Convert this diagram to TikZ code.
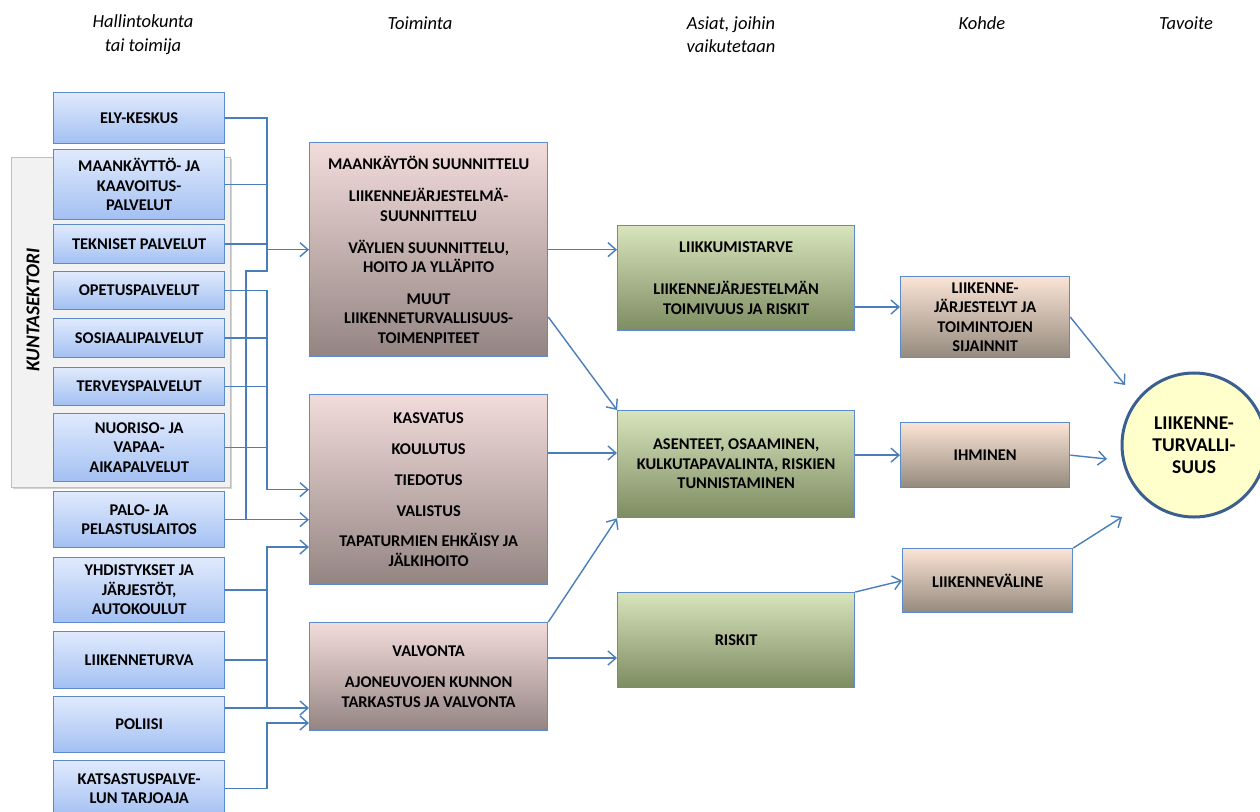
\documentclass[tikz,border=0pt]{standalone}
\usepackage{fontspec}
\setmainfont{Carlito}
\usetikzlibrary{arrows.meta,shadows}
\definecolor{lnblue}{HTML}{4A7EBB}
\definecolor{bbord}{HTML}{5B8BCB}
\definecolor{lbtop}{HTML}{E0EAFD}
\definecolor{lbbot}{HTML}{A3C0F2}
\definecolor{pktop}{HTML}{F2DCDB}
\definecolor{pkbot}{HTML}{938482}
\definecolor{gtop}{HTML}{D8E4BC}
\definecolor{gbot}{HTML}{7E8C62}
\definecolor{ttop}{HTML}{FBE4D5}
\definecolor{tbot}{HTML}{948A7E}
\definecolor{circfill}{HTML}{FFFFCC}
\definecolor{circbord}{HTML}{3B6090}
\definecolor{grayfill}{HTML}{F2F2F2}
\definecolor{grayline}{HTML}{BFBFBF}
\begin{document}
\begin{tikzpicture}[x=1pt,y=-1pt,
  conn/.style={draw=lnblue, line width=1.4pt},
  arr/.style={conn, -{Straight Barb[length=8pt,width=14pt]}},
  base/.style={anchor=north west, inner sep=0pt, align=center, line width=1.3pt,
    font=\bfseries\fontsize{16.4}{19.5}\selectfont, text=black},
  lbox/.style={base, draw=bbord, top color=lbtop, bottom color=lbbot, minimum width=171pt},
  pbox/.style={base, draw=bbord, top color=pktop, bottom color=pkbot, minimum width=238pt},
  gbox/.style={base, draw=bbord, top color=gtop, bottom color=gbot, minimum width=237pt},
  tbox/.style={base, draw=bbord, top color=ttop, bottom color=tbot, minimum width=169pt},
  head/.style={align=center, font=\itshape\fontsize{18.5}{23.5}\selectfont, inner sep=0pt}
]
\useasboundingbox (0,0) rectangle (1260,811);
\clip (0,0) rectangle (1260,811);

% headers
\node[head] (h1) at (143,34.5) {Hallintokunta\\tai toimija};
\node[head] (h2) at (420,23) {Toiminta};
\node[head] (h3) at (731,34.5) {Asiat, joihin\\vaikutetaan};
\node[head] (h4) at (982,23) {Kohde};
\node[head] (h5) at (1186,23) {Tavoite};

% kuntasektori group
\node[anchor=north west, inner sep=0pt, minimum width=219pt, minimum height=330pt,
  fill=grayfill, draw=grayline, line width=1.2pt,
  drop shadow={opacity=0.35, shadow xshift=1.5pt, shadow yshift=-1.5pt}] (kunta) at (11,157) {};
\node[rotate=90, font=\bfseries\itshape\fontsize{19.5}{23}\selectfont, inner sep=0pt] (kuntatxt) at (33,310) {KUNTASEKTORI};

% left column
\node[lbox, minimum height=51pt] (ely) at (53,92) {ELY-KESKUS};
\node[lbox, minimum height=70pt] (maank) at (53,149) {MAANKÄYTTÖ- JA\\KAAVOITUS-\\PALVELUT};
\node[lbox, minimum height=39pt] (tekn) at (53,224) {TEKNISET PALVELUT};
\node[lbox, minimum height=38pt] (opet) at (53,271) {OPETUSPALVELUT};
\node[lbox, minimum height=39pt] (sos) at (53,318) {SOSIAALIPALVELUT};
\node[lbox, minimum height=38pt] (terv) at (53,367) {TERVEYSPALVELUT};
\node[lbox, minimum height=68pt] (nuor) at (53,413) {NUORISO- JA\\VAPAA-\\AIKAPALVELUT};
\node[lbox, minimum height=56pt] (palo) at (53,491) {PALO- JA\\PELASTUSLAITOS};
\node[lbox, minimum height=65pt] (yhd) at (53,557) {YHDISTYKSET JA\\JÄRJESTÖT,\\AUTOKOULUT};
\node[lbox, minimum height=57pt] (lt) at (53,631) {LIIKENNETURVA};
\node[lbox, minimum height=56pt] (pol) at (53,696) {POLIISI};
\node[lbox, minimum height=56pt] (kats) at (53,760) {KATSASTUSPALVE-\\LUN TARJOAJA};

% middle column
\node[pbox, minimum height=214pt] (maa) at (309,142) {MAANKÄYTÖN SUUNNITTELU\\[12.5pt]LIIKENNEJÄRJESTELMÄ-\\SUUNNITTELU\\[12.5pt]VÄYLIEN SUUNNITTELU,\\HOITO JA YLLÄPITO\\[12pt]MUUT\\LIIKENNETURVALLISUUS-\\TOIMENPITEET};
\node[pbox, minimum height=190pt] (kasv) at (309,394) {KASVATUS\\[11.5pt]KOULUTUS\\[11pt]TIEDOTUS\\[11.5pt]VALISTUS\\[11pt]TAPATURMIEN EHKÄISY JA\\JÄLKIHOITO};
\node[pbox, minimum height=108pt] (valv) at (309,622) {VALVONTA\\[11.5pt]AJONEUVOJEN KUNNON\\TARKASTUS JA VALVONTA};

% third column
\node[gbox, minimum height=105pt] (g1) at (617,225) {LIIKKUMISTARVE\\[22.5pt]LIIKENNEJÄRJESTELMÄN\\TOIMIVUUS JA RISKIT};
\node[gbox, minimum height=107pt] (g2) at (617,410) {ASENTEET, OSAAMINEN,\\KULKUTAPAVALINTA, RISKIEN\\TUNNISTAMINEN};
\node[gbox, minimum height=95pt] (g3) at (617,592) {RISKIT};

% fourth column
\node[tbox, minimum height=81pt] (k1) at (900,276) {LIIKENNE-\\JÄRJESTELYT JA\\TOIMINTOJEN\\SIJAINNIT};
\node[tbox, minimum height=65pt] (k2) at (900,422) {IHMINEN};
\node[tbox, minimum height=64pt, minimum width=170pt] (k3) at (902,548) {LIIKENNEVÄLINE};

% goal
\node[circle, minimum size=144pt, inner sep=0pt, fill=circfill, draw=circbord, line width=3pt,
  align=center, font=\bfseries\fontsize{19.5}{22}\selectfont] (goal) at (1194,445) {LIIKENNE-\\TURVALLI-\\SUUS};

% left bus connectors
\coordinate (a1) at (267,271);
\coordinate (a2) at (246,271);
\draw[arr] (ely.east) -| (a1) -- (a2) |- (palo.east -| kasv.west);
\draw[conn] (maank.east) -- (maank.east -| a1);
\draw[conn] (tekn.east) -- (tekn.east -| a1);
\draw[arr] (a1 |- maa.west) -- (maa.west);
\draw[conn] (palo.east) -- (palo.east -| a2);

\draw[arr] (opet.east) -| (kasv.west -| a1) -- (kasv.west);
\draw[conn] (sos.east) -- (sos.east -| a1);
\draw[conn] (terv.east) -- (terv.east -| a1);
\draw[conn] (nuor.east) -- (nuor.east -| a1);

\coordinate (c1) at (267,547);
\coordinate (c2) at (267,708);
\coordinate (d1) at (267,723);
\draw[arr] (c2) -- (c1) -- (kasv.west |- c1);
\draw[arr] (pol.east |- c2) -- (valv.west |- c2);
\draw[conn] (yhd.east) -- (yhd.east -| c1);
\draw[conn] (lt.east) -- (lt.east -| c1);
\draw[arr] (kats.east) -| (d1) -- (valv.west |- d1);

% middle to third
\draw[arr] (maa.east) -- (maa.east -| g1.west);
\draw[arr] (maa.east |- 0,317) -- (g2.north west);
\draw[arr] (kasv.east |- 0,453) -- (g2.west |- 0,453);
\draw[arr] (valv.north east) -- (g2.south west);
\draw[arr] (valv.east |- 0,658) -- (g3.west |- 0,658);

% third to fourth
\draw[arr] (g1.east |- 0,307) -- (k1.west |- 0,307);
\draw[arr] (g2.east |- k2.west) -- (k2.west);
\draw[arr] (g3.north east) -- (k3.west);

% fourth to goal
\coordinate (e1) at (1125,385);
\coordinate (e2) at (1107,459);
\coordinate (e3) at (1122,517);
\draw[arr] (k1.east |- 0,317) -- (e1);
\draw[arr] (k2.east) -- (e2);
\draw[arr] (k3.north east) -- (e3);
\end{tikzpicture}
\end{document}
